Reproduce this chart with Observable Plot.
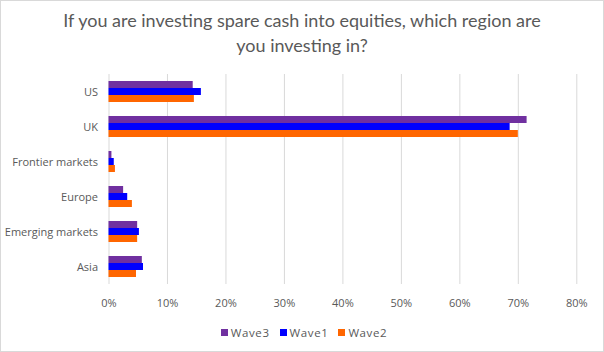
<!DOCTYPE html>
<html>
<head>
<meta charset="utf-8">
<script src="https://cdn.jsdelivr.net/npm/d3@7"></script>
<script src="https://cdn.jsdelivr.net/npm/@observablehq/plot@0.6"></script>
<style>
  html, body { margin: 0; padding: 0; background: #fff; }
  #chart { position: relative; width: 604px; height: 352px; box-sizing: border-box; border: 1px solid #d9d9d9; background: #fff; font-family: Lato, "Open Sans", sans-serif; color: #595959; overflow: hidden; }
  #title { height: 57px; box-sizing: border-box; padding-top: 7px; text-align: center; font-size: 18px; line-height: 25px; color: #595959; font-weight: 400; }
  #legend { height: 24px; display: flex; justify-content: center; align-items: center; font-family: "Open Sans", sans-serif; font-size: 11.5px; color: #595959; letter-spacing: 0.6px; padding-left: 4px; box-sizing: border-box; }
  #legend .item { display: flex; align-items: center; margin: 0 5px; }
  #legend .sw { width: 7px; height: 7px; margin-right: 3px; }
  svg text { fill: #595959; }
</style>
</head>
<body>
<div id="chart">
  <div id="title">If you are investing spare cash into equities, which region are<br>you investing in?</div>
  <div id="plot"></div>
  <div id="legend"></div>
</div>
<script>
const regions = ["US", "UK", "Frontier markets", "Europe", "Emerging markets", "Asia"];
const waves = ["Wave3", "Wave1", "Wave2"];
const wave3 = [14.4, 71.5, 0.5, 2.5, 4.9, 5.7];
const wave1 = [15.8, 68.6, 0.9, 3.2, 5.2, 5.9];
const wave2 = [14.6, 70.0, 1.1, 4.0, 4.9, 4.7];
const colors = ["#7030A0", "#0000FF", "#FF6600"];
const xTicks = [0, 10, 20, 30, 40, 50, 60, 70, 80];

const series = [wave3, wave1, wave2];
const data = regions.flatMap((r, i) => waves.map((w, j) => ({region: r, wave: w, value: series[j][i]})));

const plot = Plot.plot({
  width: 602,
  height: 262,
  marginLeft: 107.5,
  marginRight: 26.7,
  marginTop: 14,
  marginBottom: 34,
  style: {fontFamily: "'Open Sans', sans-serif", fontSize: "11px", color: "#595959", background: "transparent"},
  x: {domain: [0, 80], ticks: xTicks, tickFormat: d => d + "%", tickSize: 0, tickPadding: 15, label: null},
  y: {domain: waves, axis: null, paddingInner: 0, paddingOuter: 1},
  fy: {domain: regions, padding: 0, axis: "left", tickSize: 0, tickPadding: 11, label: null},
  color: {domain: waves, range: colors},
  marks: [
    Plot.ruleX(xTicks, {stroke: "#d9d9d9", strokeWidth: 1}),
    Plot.barX(data, {fy: "region", y: "wave", x: "value", fill: "wave"})
  ]
});
document.getElementById("plot").appendChild(plot);

const legend = document.getElementById("legend");
waves.forEach((w, j) => {
  const item = document.createElement("div");
  item.className = "item";
  const sw = document.createElement("div");
  sw.className = "sw";
  sw.style.background = colors[j];
  const t = document.createElement("span");
  t.textContent = w;
  item.appendChild(sw);
  item.appendChild(t);
  legend.appendChild(item);
});
</script>
</body>
</html>
